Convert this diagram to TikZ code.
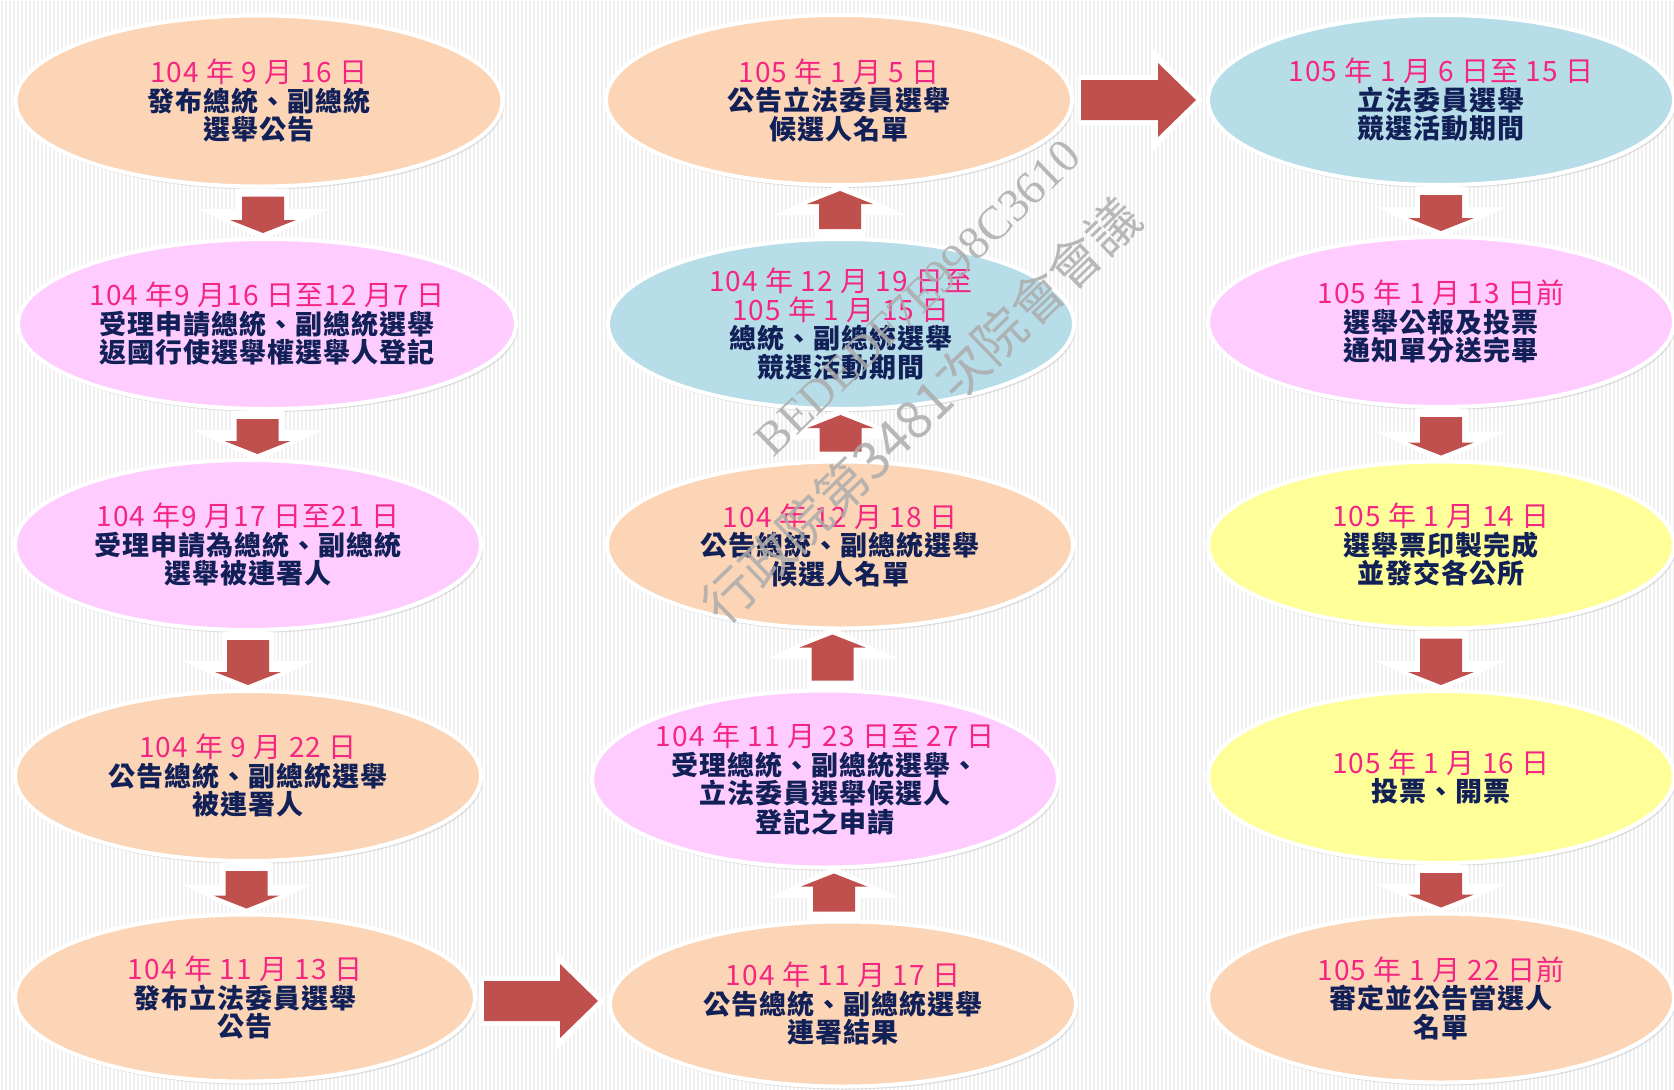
\documentclass[tikz,border=0pt]{standalone}
\usepackage{fontspec}
\setmainfont{Noto Sans CJK TC}
\newfontfamily\markfont{Liberation Serif}
\usepackage{tikz}
\usetikzlibrary{shapes.geometric,shadows,calc}
\definecolor{bgstripe}{RGB}{240,240,240}
\definecolor{peach}{RGB}{251,213,181}
\definecolor{lilac}{RGB}{255,204,255}
\definecolor{skyblue}{RGB}{183,221,232}
\definecolor{paleyellow}{RGB}{255,255,153}
\definecolor{arrowred}{RGB}{192,80,77}
\definecolor{datepink}{RGB}{244,38,130}
\definecolor{navytext}{RGB}{18,32,88}
\definecolor{markgray}{RGB}{172,172,172}
\tikzstyle{stage} = [ellipse, draw=white, line width=4pt, inner sep=-15pt, minimum width=466, minimum height=170, align=center, text=navytext, font=\bfseries\fontsize{27}{28.5}\selectfont\addfontfeature{LetterSpace=4}, drop shadow={opacity=0.22, shadow xshift=2pt, shadow yshift=-3pt}]
\tikzstyle{arrwhite} = [fill=white]
\tikzstyle{arrred} = [fill=arrowred]
\tikzstyle{wmark} = [text=markgray, text opacity=0.85, rotate=44]
\newcommand{\dateline}[1]{{\mdseries\fontsize{28}{28.5}\selectfont\color{datepink}#1}}
% block arrows between two stages
\newcommand{\dnarr}[2]{%
  \fill[arrwhite] let \p1=(#1.south), \p2=(#2.north), \n1={0.5*\x1+0.5*\x2} in
    (\n1-26pt,\y1) -- (\n1+26pt,\y1) -- (\n1+26pt,\y2+28pt) -- (\n1+65pt,\y2+28pt)
    -- (\n1+0pt,\y2-3pt) -- (\n1-65pt,\y2+28pt) -- (\n1-26pt,\y2+28pt) -- cycle;
  \fill[arrred] let \p1=(#1.south), \p2=(#2.north), \n1={0.5*\x1+0.5*\x2} in
    (\n1-21pt,\y1-8pt) -- (\n1+21pt,\y1-8pt) -- (\n1+21pt,\y2+17pt) -- (\n1+33pt,\y2+17pt)
    -- (\n1+0pt,\y2+4pt) -- (\n1-33pt,\y2+17pt) -- (\n1-21pt,\y2+17pt) -- cycle;}
\newcommand{\uparr}[2]{%
  \fill[arrwhite] let \p1=(#1.north), \p2=(#2.south), \n1={0.5*\x1+0.5*\x2} in
    (\n1-26pt,\y1) -- (\n1+26pt,\y1) -- (\n1+26pt,\y2-28pt) -- (\n1+65pt,\y2-28pt)
    -- (\n1+0pt,\y2+3pt) -- (\n1-65pt,\y2-28pt) -- (\n1-26pt,\y2-28pt) -- cycle;
  \fill[arrred] let \p1=(#1.north), \p2=(#2.south), \n1={0.5*\x1+0.5*\x2} in
    (\n1-21pt,\y1+8pt) -- (\n1+21pt,\y1+8pt) -- (\n1+21pt,\y2-17pt) -- (\n1+33pt,\y2-17pt)
    -- (\n1+0pt,\y2-4pt) -- (\n1-33pt,\y2-17pt) -- (\n1-21pt,\y2-17pt) -- cycle;}
\newcommand{\rtarr}[2]{%
  \fill[arrwhite] let \p1=(#1.east), \p2=(#2.west), \n1={0.5*\y1+0.5*\y2} in
    (\x1+4pt,\n1+25pt) -- (\x2-53pt,\n1+25pt) -- (\x2-53pt,\n1+51pt) -- (\x2-3pt,\n1+0pt)
    -- (\x2-53pt,\n1-51pt) -- (\x2-53pt,\n1-25pt) -- (\x1+4pt,\n1-25pt) -- cycle;
  \fill[arrred] let \p1=(#1.east), \p2=(#2.west), \n1={0.5*\y1+0.5*\y2} in
    (\x1+7pt,\n1+20pt) -- (\x2-48pt,\n1+20pt) -- (\x2-48pt,\n1+37pt) -- (\x2-10pt,\n1+0pt)
    -- (\x2-48pt,\n1-37pt) -- (\x2-48pt,\n1-20pt) -- (\x1+7pt,\n1-20pt) -- cycle;}

\begin{document}
\begin{tikzpicture}[x=1pt, y=-1pt]
    \useasboundingbox (0,0) rectangle (1674,1090);
    \clip (0,0) rectangle (1674,1090);

    % Background
    \fill[bgstripe] (0,0) rectangle (1674,1090);
    \draw[white, line width=1.3pt, xstep=4pt, ystep=2000pt] (0,1090) grid (1674,0);

    % Left column
    \node[stage, fill=peach, minimum width=487, minimum height=171] (presnotice) at (259,101)
        {\dateline{104 年 9 月 16 日}\\ 發布總統、副總統\\ 選舉公告};
    \node[stage, fill=lilac, minimum width=498] (overseasreg) at (267,324)
        {\dateline{104 年9 月16 日至12 月7 日}\\ 受理申請總統、副總統選舉\\ 返國行使選舉權選舉人登記};
    \node[stage, fill=lilac] (cosignapply) at (248,545)
        {\dateline{104 年9 月17 日至21 日}\\ 受理申請為總統、副總統\\ 選舉被連署人};
    \node[stage, fill=peach] (cosignlist) at (248,776)
        {\dateline{104 年 9 月 22 日}\\ 公告總統、副總統選舉\\ 被連署人};
    \node[stage, fill=peach, minimum width=460, minimum height=167] (legnotice) at (245,998)
        {\dateline{104 年 11 月 13 日}\\ 發布立法委員選舉\\ 公告};

    % Middle column
    \node[stage, fill=peach, minimum height=165] (cosignresult) at (843,1004)
        {\dateline{104 年 11 月 17 日}\\ 公告總統、副總統選舉\\ 連署結果};
    \node[stage, fill=lilac, minimum height=177] (candapply) at (825,779)
        {\dateline{104 年 11 月 23 日至 27 日}\\ 受理總統、副總統選舉、\\ 立法委員選舉候選人\\ 登記之申請};
    \node[stage, fill=peach, minimum height=167] (prescand) at (840,545)
        {\dateline{104 年 12 月 18 日}\\ 公告總統、副總統選舉\\ 候選人名單};
    \node[stage, fill=skyblue] (prescampaign) at (841,324)
        {\dateline{104 年 12 月 19 日至}\\ \dateline{105 年 1 月 15 日}\\ 總統、副總統選舉\\ 競選活動期間};
    \node[stage, fill=peach] (legcand) at (839,100)
        {\dateline{105 年 1 月 5 日}\\ 公告立法委員選舉\\ 候選人名單};

    % Right column
    \node[stage, fill=skyblue] (legcampaign) at (1441,100)
        {\dateline{105 年 1 月 6 日至 15 日}\\ 立法委員選舉\\ 競選活動期間};
    \node[stage, fill=lilac] (gazette) at (1441,322)
        {\dateline{105 年 1 月 13 日前}\\ 選舉公報及投票\\ 通知單分送完畢};
    \node[stage, fill=paleyellow, minimum height=167] (ballots) at (1441,545)
        {\dateline{105 年 1 月 14 日}\\ 選舉票印製完成\\ 並發交各公所};
    \node[stage, fill=paleyellow, minimum height=172] (voting) at (1441,777)
        {\dateline{105 年 1 月 16 日}\\ 投票、開票};
    \node[stage, fill=peach, minimum height=169] (winners) at (1441,998)
        {\dateline{105 年 1 月 22 日前}\\ 審定並公告當選人\\ 名單};

    % Flow
    \dnarr{presnotice}{overseasreg}
    \dnarr{overseasreg}{cosignapply}
    \dnarr{cosignapply}{cosignlist}
    \dnarr{cosignlist}{legnotice}
    \rtarr{legnotice}{cosignresult}
    \uparr{cosignresult}{candapply}
    \uparr{candapply}{prescand}
    \uparr{prescand}{prescampaign}
    \uparr{prescampaign}{legcand}
    \rtarr{legcand}{legcampaign}
    \dnarr{legcampaign}{gazette}
    \dnarr{gazette}{ballots}
    \dnarr{ballots}{voting}
    \dnarr{voting}{winners}

    % Watermark
    \node[wmark, font=\markfont\fontsize{47}{47}\selectfont] (markid) at (918,298) {BEDEDF7E998C3610};
    \node[wmark, font=\fontsize{52}{52}\selectfont] (markname) at (921,411) {行政院第3481次院會會議};
\end{tikzpicture}
\end{document}
